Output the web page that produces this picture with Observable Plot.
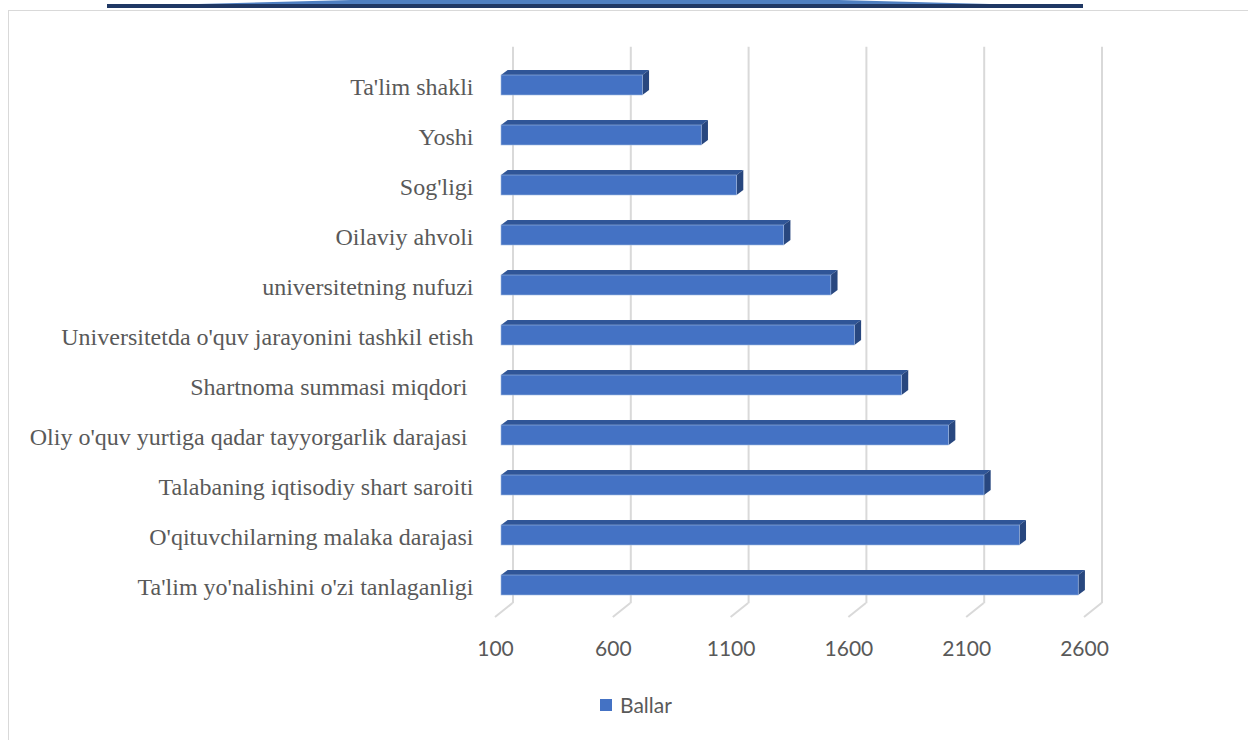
<!DOCTYPE html>
<html>
<head>
<meta charset="utf-8">
<script src="https://cdn.jsdelivr.net/npm/d3@7"></script>
<script src="https://cdn.jsdelivr.net/npm/@observablehq/plot@0.6"></script>
<style>
  html, body { margin: 0; padding: 0; background: #fff; width: 1248px; height: 740px; overflow: hidden; }
  #frame { position: absolute; left: 8px; top: 10px; width: 1250px; height: 740px;
           border-top: 1.5px solid #d9d9d9; border-left: 1.5px solid #d9d9d9; }
  #bannerLine { position: absolute; left: 107px; top: 4px; width: 976px; height: 4px; background: #203864; }
  #bannerWedge { position: absolute; left: 160px; top: 0px; width: 870px; height: 5px; background: #4f7fc0;
                 clip-path: polygon(0% 100%, 22% 0%, 78% 0%, 100% 100%); }
  #chart { position: absolute; left: 0; top: 0; }
  #legend { position: absolute; left: 600px; top: 692px; display: flex; align-items: center;
            font-family: Lato, "Open Sans", sans-serif; font-size: 21px; color: #595959; }
  #legend .sw { width: 12px; height: 12px; background: #4472C4; margin-right: 8px; }
</style>
</head>
<body>
<div id="frame"></div>
<div id="bannerWedge"></div>
<div id="bannerLine"></div>
<div id="chart"></div>
<div id="legend"><span class="sw"></span><span>Ballar</span></div>
<script>
const categories = [
  "Ta'lim shakli",
  "Yoshi",
  "Sog'ligi",
  "Oilaviy ahvoli",
  "universitetning nufuzi",
  "Universitetda o'quv jarayonini tashkil etish",
  "Shartnoma summasi miqdori\u00a0",
  "Oliy o'quv yurtiga qadar tayyorgarlik darajasi\u00a0",
  "Talabaning iqtisodiy shart saroiti",
  "O'qituvchilarning malaka darajasi",
  "Ta'lim yo'nalishini o'zi tanlaganligi"
];
const ballar = [700, 950, 1100, 1300, 1500, 1600, 1800, 2000, 2150, 2300, 2550];
const xTicks = [100, 600, 1100, 1600, 2100, 2600];
const seriesName = "Ballar";

const data = categories.map((c, i) => ({category: c, value: ballar[i]}));
const baseValue = xTicks[0];

const FRONT = "#4472C4", TOP = "#2F5597", SIDE = "#28477F";
const DX = 6.7, DY = 5, SHIFT = 6, BACK = 17.5;

function diagonals(index, scales, values, dims) {
  const g = d3.create("svg:g");
  const yb = dims.height - dims.marginBottom;
  for (const t of xTicks) {
    const x = scales.x(t);
    g.append("path")
      .attr("d", `M${x},${yb + 3.7}L${x + BACK},${yb - 10.3}`)
      .attr("stroke", "#d9d9d9").attr("stroke-width", 2).attr("fill", "none");
  }
  return g.node();
}

function faces(index, scales, values, dims) {
  const g = d3.create("svg:g");
  const bwRaw = scales.y.bandwidth;
  const bw = typeof bwRaw === "function" ? bwRaw() : (bwRaw ?? 20);
  for (const d of data) {
    const x0 = scales.x(baseValue) + SHIFT;
    const x1 = scales.x(d.value) + SHIFT;
    const top = scales.y(d.category);
    const bot = top + bw;
    g.append("path")
      .attr("d", `M${x0},${top}L${x0 + DX},${top - DY}L${x1 + DX},${top - DY}L${x1},${top}Z`)
      .attr("fill", TOP);
    g.append("path")
      .attr("d", `M${x1},${top}L${x1 + DX},${top - DY}L${x1 + DX},${bot - DY}L${x1},${bot}Z`)
      .attr("fill", SIDE);
  }
  return g.node();
}

const chart = Plot.plot({
  width: 1248,
  height: 680,
  marginLeft: 495,
  marginRight: 164,
  marginTop: 56.7,
  marginBottom: 66.7,
  style: {background: "transparent", overflow: "visible"},
  x: {domain: [xTicks[0], xTicks[xTicks.length - 1]], range: [495, 1084]},
  y: {domain: categories, paddingInner: 0.6, paddingOuter: 0.3},
  marks: [
    Plot.ruleX(xTicks, {dx: BACK, dy: -10, stroke: "#d9d9d9", strokeWidth: 2}),
    diagonals,
    faces,
    Plot.barX(data, {x1: () => baseValue, x2: "value", y: "category", dx: SHIFT, fill: FRONT,
                     stroke: "#9fb7e0", strokeWidth: 0.6}),
    Plot.axisX({ticks: xTicks, tickSize: 0, tickPadding: 27, tickFormat: d => String(d),
                fontFamily: "Lato", fontSize: 21, fill: "#595959", label: null}),
    Plot.axisY({tickSize: 0, tickPadding: 22, fontFamily: "Liberation Serif", fontSize: 24,
                fill: "#595959", label: null, dy: 2})
  ]
});
document.getElementById("chart").appendChild(chart);
</script>
</body>
</html>
